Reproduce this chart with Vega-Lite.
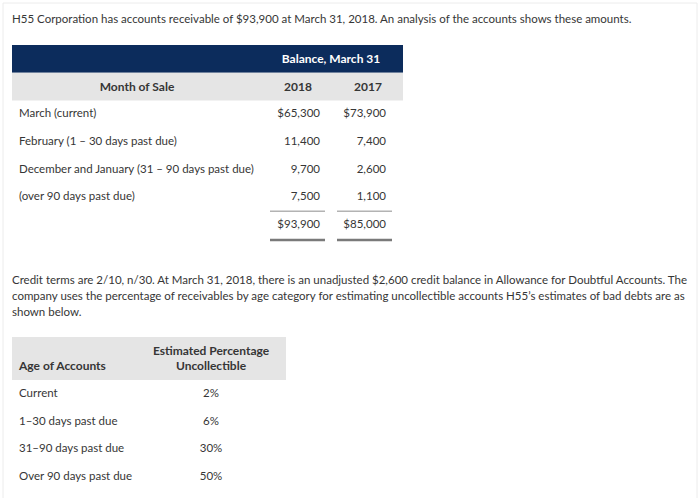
{
  "$schema": "https://vega.github.io/schema/vega-lite/v6.json",
  "width": 700,
  "height": 498,
  "padding": 0,
  "autosize": {"type": "none"},
  "background": "white",
  "config": {
    "view": {"stroke": null},
    "axis": {"disable": true},
    "text": {"font": "Lato", "fontSize": 11.5, "color": "#363636", "baseline": "middle"}
  },
  "datasets": {
    "prose": [
      {"row": 0, "text": "H55 Corporation has accounts receivable of $93,900 at March 31, 2018. An analysis of the accounts shows these amounts."},
      {"row": 8, "text": "Credit terms are 2/10, n/30. At March 31, 2018, there is an unadjusted $2,600 credit balance in Allowance for Doubtful Accounts. The"},
      {"row": 9, "text": "company uses the percentage of receivables by age category for estimating uncollectible accounts H55’s estimates of bad debts are as"},
      {"row": 10, "text": "shown below."}
    ],
    "receivables": [
      {"row": 3, "month": "March (current)", "b2018": 65300, "b2017": 73900},
      {"row": 4, "month": "February (1 – 30 days past due)", "b2018": 11400, "b2017": 7400},
      {"row": 5, "month": "December and January (31 – 90 days past due)", "b2018": 9700, "b2017": 2600},
      {"row": 6, "month": "(over 90 days past due)", "b2018": 7500, "b2017": 1100},
      {"row": 7, "month": "", "b2018": 93900, "b2017": 85000}
    ],
    "estimates": [
      {"row": 13, "age": "Current", "rate": 0.02},
      {"row": 14, "age": "1–30 days past due", "rate": 0.06},
      {"row": 15, "age": "31–90 days past due", "rate": 0.30},
      {"row": 16, "age": "Over 90 days past due", "rate": 0.50}
    ]
  },
  "layer": [
    {
      "data": {"values": [{}]},
      "mark": {"type": "rect", "fill": null, "stroke": "#ececec", "strokeWidth": 1},
      "encoding": {
        "x": {"datum": 0, "type": "quantitative",
          "scale": {"domain": [0,1,2,3,4,5,6,7,8,9,10,11,12,13,14,15,16],
                    "range": [3,12,19,137,211,270,286,298,320,325,331,337,368,386,392,403,697],
                    "nice": false, "zero": false}},
        "x2": {"datum": 16},
        "y": {"datum": -1, "type": "quantitative",
          "scale": {"domain": [-1,0,0.5,1,7,7.5,8,10,10.5,11,12,16,17],
                    "range": [3,20,45,59,225,240,281,313,337,351,366,477,520],
                    "nice": false, "zero": false}},
        "y2": {"datum": 17}
      }
    },
    {
      "data": {"values": [{}]},
      "mark": {"type": "rect", "fill": "#0c2c5c"},
      "encoding": {
        "x": {"datum": 1, "type": "quantitative"}, "x2": {"datum": 15},
        "y": {"datum": 0.5, "type": "quantitative"}, "y2": {"datum": 1.5}
      }
    },
    {
      "data": {"values": [{}]},
      "mark": {"type": "rect", "fill": "#e5e5e5"},
      "encoding": {
        "x": {"datum": 1, "type": "quantitative"}, "x2": {"datum": 15},
        "y": {"datum": 1.5, "type": "quantitative"}, "y2": {"datum": 2.5}
      }
    },
    {
      "data": {"values": [{}]},
      "mark": {"type": "rect", "fill": "#e5e5e5"},
      "encoding": {
        "x": {"datum": 1, "type": "quantitative"}, "x2": {"datum": 6},
        "y": {"datum": 10.5, "type": "quantitative"}, "y2": {"datum": 12.5}
      }
    },
    {
      "data": {"name": "prose"},
      "mark": {"type": "text", "align": "left"},
      "encoding": {
        "x": {"datum": 1, "type": "quantitative"},
        "y": {"field": "row", "type": "quantitative"},
        "text": {"field": "text"}
      }
    },
    {
      "data": {"values": [{"label": "Balance, March 31"}]},
      "mark": {"type": "text", "align": "center", "fontWeight": "bold", "fontSize": 12, "color": "white"},
      "encoding": {
        "x": {"datum": 10, "type": "quantitative"},
        "y": {"datum": 1, "type": "quantitative"},
        "text": {"field": "label"}
      }
    },
    {
      "data": {"values": [{"label": "Month of Sale"}]},
      "mark": {"type": "text", "align": "center", "fontWeight": "bold", "fontSize": 12},
      "encoding": {
        "x": {"datum": 3, "type": "quantitative"},
        "y": {"datum": 2, "type": "quantitative"},
        "text": {"field": "label"}
      }
    },
    {
      "data": {"values": [{"label": "2018"}]},
      "mark": {"type": "text", "align": "center", "fontWeight": "bold", "fontSize": 12},
      "encoding": {
        "x": {"datum": 7, "type": "quantitative"},
        "y": {"datum": 2, "type": "quantitative"},
        "text": {"field": "label"}
      }
    },
    {
      "data": {"values": [{"label": "2017"}]},
      "mark": {"type": "text", "align": "center", "fontWeight": "bold", "fontSize": 12},
      "encoding": {
        "x": {"datum": 12, "type": "quantitative"},
        "y": {"datum": 2, "type": "quantitative"},
        "text": {"field": "label"}
      }
    },
    {
      "data": {"name": "receivables"},
      "mark": {"type": "text", "align": "left"},
      "encoding": {
        "x": {"datum": 2, "type": "quantitative"},
        "y": {"field": "row", "type": "quantitative"},
        "text": {"field": "month"}
      }
    },
    {
      "data": {"name": "receivables"},
      "transform": [{"filter": "datum.row == 3 || datum.row == 7"}],
      "mark": {"type": "text", "align": "right"},
      "encoding": {
        "x": {"datum": 8, "type": "quantitative"},
        "y": {"field": "row", "type": "quantitative"},
        "text": {"field": "b2018", "type": "quantitative", "format": "$,.0f"}
      }
    },
    {
      "data": {"name": "receivables"},
      "transform": [{"filter": "datum.row != 3 && datum.row != 7"}],
      "mark": {"type": "text", "align": "right"},
      "encoding": {
        "x": {"datum": 8, "type": "quantitative"},
        "y": {"field": "row", "type": "quantitative"},
        "text": {"field": "b2018", "type": "quantitative", "format": ",.0f"}
      }
    },
    {
      "data": {"name": "receivables"},
      "transform": [{"filter": "datum.row == 3 || datum.row == 7"}],
      "mark": {"type": "text", "align": "right"},
      "encoding": {
        "x": {"datum": 13, "type": "quantitative"},
        "y": {"field": "row", "type": "quantitative"},
        "text": {"field": "b2017", "type": "quantitative", "format": "$,.0f"}
      }
    },
    {
      "data": {"name": "receivables"},
      "transform": [{"filter": "datum.row != 3 && datum.row != 7"}],
      "mark": {"type": "text", "align": "right"},
      "encoding": {
        "x": {"datum": 13, "type": "quantitative"},
        "y": {"field": "row", "type": "quantitative"},
        "text": {"field": "b2017", "type": "quantitative", "format": ",.0f"}
      }
    },
    {
      "data": {"values": [{}]},
      "mark": {"type": "rule", "color": "#8c8c8c", "strokeWidth": 1},
      "encoding": {
        "x": {"datum": 5, "type": "quantitative"}, "x2": {"datum": 9},
        "y": {"datum": 6.5, "type": "quantitative"}
      }
    },
    {
      "data": {"values": [{}]},
      "mark": {"type": "rule", "color": "#8c8c8c", "strokeWidth": 1},
      "encoding": {
        "x": {"datum": 11, "type": "quantitative"}, "x2": {"datum": 14},
        "y": {"datum": 6.5, "type": "quantitative"}
      }
    },
    {
      "data": {"values": [{}]},
      "mark": {"type": "rule", "color": "#7a7a7a", "strokeWidth": 2.5},
      "encoding": {
        "x": {"datum": 5, "type": "quantitative"}, "x2": {"datum": 9},
        "y": {"datum": 7.5, "type": "quantitative"}
      }
    },
    {
      "data": {"values": [{}]},
      "mark": {"type": "rule", "color": "#7a7a7a", "strokeWidth": 2.5},
      "encoding": {
        "x": {"datum": 11, "type": "quantitative"}, "x2": {"datum": 14},
        "y": {"datum": 7.5, "type": "quantitative"}
      }
    },
    {
      "data": {"values": [{"label": "Age of Accounts"}]},
      "mark": {"type": "text", "align": "left", "fontWeight": "bold", "fontSize": 12},
      "encoding": {
        "x": {"datum": 2, "type": "quantitative"},
        "y": {"datum": 12, "type": "quantitative"},
        "text": {"field": "label"}
      }
    },
    {
      "data": {"values": [{"label": "Estimated Percentage"}]},
      "mark": {"type": "text", "align": "center", "fontWeight": "bold", "fontSize": 12},
      "encoding": {
        "x": {"datum": 4, "type": "quantitative"},
        "y": {"datum": 11, "type": "quantitative"},
        "text": {"field": "label"}
      }
    },
    {
      "data": {"values": [{"label": "Uncollectible"}]},
      "mark": {"type": "text", "align": "center", "fontWeight": "bold", "fontSize": 12},
      "encoding": {
        "x": {"datum": 4, "type": "quantitative"},
        "y": {"datum": 12, "type": "quantitative"},
        "text": {"field": "label"}
      }
    },
    {
      "data": {"name": "estimates"},
      "mark": {"type": "text", "align": "left"},
      "encoding": {
        "x": {"datum": 2, "type": "quantitative"},
        "y": {"field": "row", "type": "quantitative"},
        "text": {"field": "age"}
      }
    },
    {
      "data": {"name": "estimates"},
      "mark": {"type": "text", "align": "center"},
      "encoding": {
        "x": {"datum": 4, "type": "quantitative"},
        "y": {"field": "row", "type": "quantitative"},
        "text": {"field": "rate", "type": "quantitative", "format": ".0%"}
      }
    }
  ]
}
